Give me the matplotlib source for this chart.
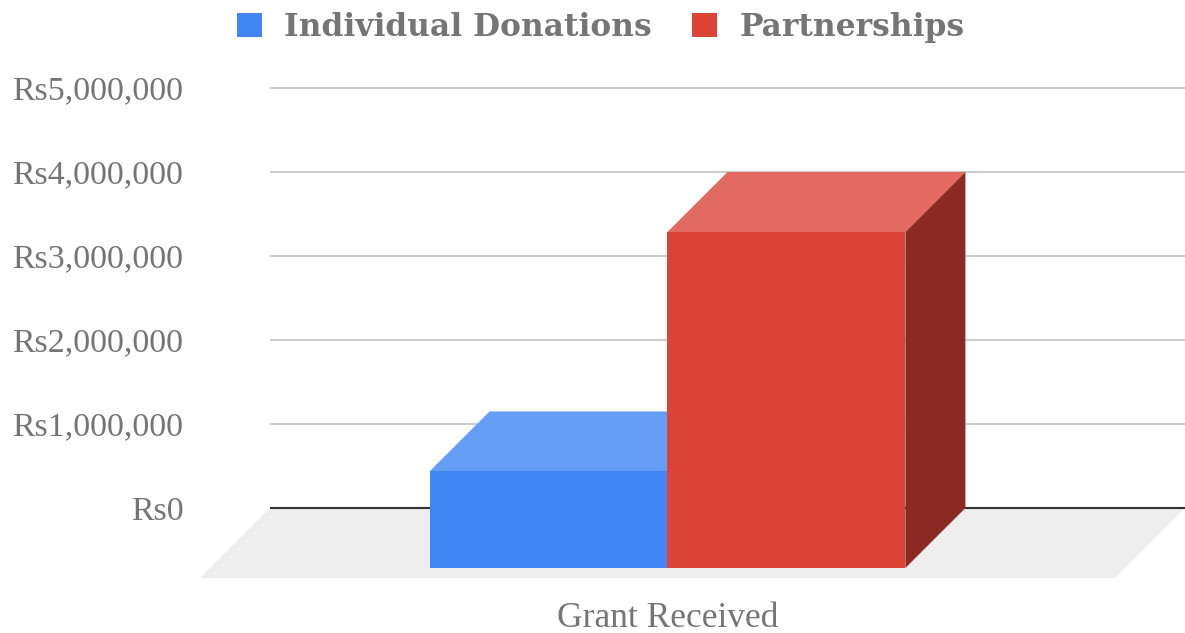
import matplotlib.pyplot as plt
import matplotlib
from matplotlib.patches import Polygon, Patch
from matplotlib.ticker import FuncFormatter

matplotlib.rcParams['font.family'] = 'Liberation Serif'

# data
categories = ['Grant Received']
series = ['Individual Donations', 'Partnerships']
values = [1150000, 4000000]
yticks = [0, 1000000, 2000000, 3000000, 4000000, 5000000]

# styles
front_colors = ['#4285F4', '#DB4437']
top_colors = ['#669DF6', '#E26A60']
side_colors = ['#2F5FB3', '#8B2A22']
text_color = '#757575'

bar_w = 0.26           # width of one bar in category units
dx, dy = -0.0656, -714000   # 3D depth shift of the bars (front minus back)
fdx, fdy = -0.0765, -833000  # depth shift of the floor

fig = plt.figure(figsize=(11.85, 6.33), dpi=100)
ax = fig.add_axes([200 / 1185, 55 / 633, 985 / 1185, 532 / 633])
ax.set_xlim(-0.5 + fdx, 0.5)
ax.set_ylim(fdy, 5500000)

# floor
floor = Polygon([(-0.5, 0), (0.5, 0), (0.5 + fdx, fdy), (-0.5 + fdx, fdy)],
                closed=True, facecolor='#EEEEEE', edgecolor='none', zorder=0)
ax.add_patch(floor)

# grid
for t in yticks[1:]:
    ax.plot([-0.5, 0.5], [t, t], color='#CCCCCC', lw=1.5, zorder=1, solid_capstyle='butt')
ax.plot([-0.5, 0.5], [0, 0], color='#333333', lw=1.5, zorder=2, solid_capstyle='butt')

# 3D bars
n = len(series)
start = -n * bar_w / 2
for i, (name, v) in enumerate(zip(series, values)):
    xb = start + i * bar_w
    z = 3 + i * 3
    top = Polygon([(xb + dx, v + dy), (xb + dx + bar_w, v + dy), (xb + bar_w, v), (xb, v)],
                  closed=True, facecolor=top_colors[i], edgecolor='none', zorder=z)
    side = Polygon([(xb + dx + bar_w, dy), (xb + bar_w, 0), (xb + bar_w, v), (xb + dx + bar_w, v + dy)],
                   closed=True, facecolor=side_colors[i], edgecolor='none', zorder=z)
    front = Polygon([(xb + dx, dy), (xb + dx + bar_w, dy), (xb + dx + bar_w, v + dy), (xb + dx, v + dy)],
                    closed=True, facecolor=front_colors[i], edgecolor='none', zorder=z + 1)
    for p in (top, side, front):
        ax.add_patch(p)

ax.set_yticks(yticks)
ax.yaxis.set_major_formatter(FuncFormatter(lambda x, p: 'Rs{:,}'.format(int(x))))
ax.set_xticks([dx])
ax.set_xticklabels(categories)
ax.tick_params(axis='y', length=0, pad=12, labelsize=24.5, labelcolor=text_color)
ax.tick_params(axis='x', length=0, pad=17, labelsize=25.5, labelcolor=text_color)
for s in ax.spines.values():
    s.set_visible(False)

handles = [Patch(facecolor=c, edgecolor='none') for c in front_colors]
fig.legend(handles, series, loc='upper center', bbox_to_anchor=(0.507, 1.025), ncol=2,
           frameon=False, handlelength=0.8, handleheight=0.8, handletextpad=0.7,
           columnspacing=1.3, prop={'family': 'DejaVu Serif', 'weight': 'bold', 'size': 22.5},
           labelcolor=text_color)

plt.savefig('out.png', dpi=100)
